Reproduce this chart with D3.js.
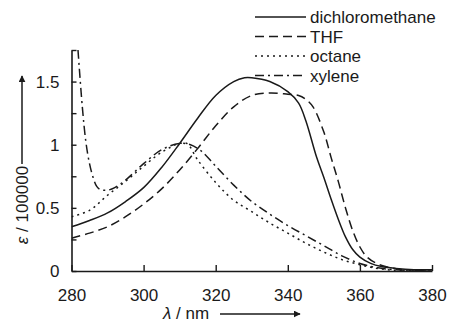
<!DOCTYPE html>
<html>
<head>
<meta charset="utf-8">
<script src="https://cdn.jsdelivr.net/npm/d3@7"></script>
<style>
  body { margin: 0; background: #fff; }
  svg { font-family: "Liberation Sans", Arial, sans-serif; }
</style>
</head>
<body>
<div id="chart"></div>
<script>
// Data (wavelength in nm, epsilon / 100000)
const seriesNames = ["dichloromethane", "THF", "octane", "xylene"];

const dcmX = [280, 285, 290, 295, 300, 305, 310, 315, 320, 325, 328, 330, 335, 340, 343, 345, 348, 350, 352, 354, 356, 358, 360, 363, 366, 370, 375, 380];
const dcmY = [0.35, 0.40, 0.46, 0.55, 0.66, 0.82, 1.01, 1.21, 1.39, 1.50, 1.53, 1.53, 1.50, 1.42, 1.33, 1.19, 0.90, 0.74, 0.57, 0.41, 0.27, 0.17, 0.11, 0.06, 0.035, 0.02, 0.01, 0.01];

const thfX = [280, 285, 290, 295, 300, 305, 310, 315, 320, 325, 330, 335, 340, 343, 345, 347, 350, 352, 354, 356, 358, 360, 362, 365, 368, 372, 380];
const thfY = [0.26, 0.30, 0.35, 0.43, 0.53, 0.65, 0.80, 0.97, 1.15, 1.30, 1.39, 1.41, 1.40, 1.39, 1.36, 1.30, 1.10, 0.90, 0.71, 0.50, 0.32, 0.19, 0.11, 0.055, 0.03, 0.01, 0.01];

const octX = [280, 285, 290, 295, 300, 305, 310, 312, 315, 320, 325, 330, 335, 340, 345, 350, 355, 360, 365, 370, 375, 380];
const octY = [0.43, 0.48, 0.60, 0.71, 0.83, 0.94, 1.01, 1.01, 0.88, 0.70, 0.56, 0.47, 0.38, 0.30, 0.22, 0.15, 0.09, 0.05, 0.02, 0.005, 0.0, 0.0];

const xylX = [281.8, 283, 284, 285, 286, 287, 288, 290, 292, 295, 300, 305, 310, 313, 316, 320, 325, 330, 335, 340, 345, 350, 355, 360, 365, 370, 380];
const xylY = [1.75, 1.30, 1.02, 0.85, 0.74, 0.67, 0.645, 0.64, 0.66, 0.72, 0.85, 0.96, 1.01, 1.00, 0.95, 0.83, 0.68, 0.55, 0.45, 0.36, 0.28, 0.20, 0.12, 0.06, 0.025, 0.01, 0.0];

const xTicks = [280, 300, 320, 340, 360, 380];
const yTicks = [0, 0.25, 0.5, 0.75, 1, 1.25, 1.5, 1.75];
const yLabels = {0: "0", 0.5: "0.5", 1: "1", 1.5: "1.5"};

const W = 449, H = 324;
const margin = {top: 50, right: 17, bottom: 53, left: 71.5};
const width = W - margin.left - margin.right;
const height = H - margin.top - margin.bottom;

const series = [
	{name: seriesNames[0], xs: dcmX, ys: dcmY, dash: null},
	{name: seriesNames[1], xs: thfX, ys: thfY, dash: "9,5"},
	{name: seriesNames[2], xs: octX, ys: octY, dash: "2,4"},
	{name: seriesNames[3], xs: xylX, ys: xylY, dash: "9,4,2,4"}
];

const x = d3.scaleLinear().domain([280, 380]).range([0, width]);
const y = d3.scaleLinear().domain([0, 1.75]).range([height, 0]);

const svg = d3.select("#chart").append("svg")
	.attr("width", W)
	.attr("height", H);

const g = svg.append("g")
	.attr("transform", "translate(" + margin.left + "," + margin.top + ")");

g.append("clipPath").attr("id", "clip")
	.append("rect").attr("x", 0).attr("y", 0).attr("width", width).attr("height", height);

// Curves
const line = d3.line()
	.x(d => x(d[0]))
	.y(d => y(d[1]))
	.curve(d3.curveCatmullRom.alpha(0.5));

for (let s of series) {
	g.append("path")
		.datum(d3.zip(s.xs, s.ys))
		.attr("clip-path", "url(#clip)")
		.attr("fill", "none")
		.attr("stroke", "#1a1a1a")
		.attr("stroke-width", 1.5)
		.attr("stroke-dasharray", s.dash)
		.attr("d", line);
}

// Axes (ticks pointing inward)
const xAxis = d3.axisBottom(x).tickValues(xTicks).tickSizeInner(-6).tickSizeOuter(0).tickPadding(18);
const yAxis = d3.axisLeft(y).tickValues(yTicks).tickSizeInner(-5).tickSizeOuter(0)
	.tickPadding(12).tickFormat(d => yLabels[d] !== undefined ? yLabels[d] : "");

const gx = g.append("g").attr("transform", "translate(0," + height + ")").call(xAxis);
const gy = g.append("g").call(yAxis);

for (let a of [gx, gy]) {
	a.select(".domain").attr("stroke", "#1a1a1a").attr("stroke-width", 1.6);
	a.selectAll(".tick line").attr("stroke", "#1a1a1a").attr("stroke-width", 1.4);
	a.selectAll(".tick text").attr("fill", "#1a1a1a").style("font-size", "17px");
}

// Arrow marker
svg.append("defs").append("marker")
	.attr("id", "arrow")
	.attr("viewBox", "0 0 10 10")
	.attr("refX", 9).attr("refY", 5)
	.attr("markerWidth", 7).attr("markerHeight", 7)
	.attr("markerUnits", "userSpaceOnUse")
	.attr("orient", "auto")
	.append("path").attr("d", "M0,0 L10,5 L0,10 z").attr("fill", "#1a1a1a");

// y-label
const yl = svg.append("text")
	.attr("transform", "translate(28,205) rotate(-90)")
	.style("text-anchor", "middle")
	.style("font-size", "17px")
	.attr("fill", "#1a1a1a");
yl.append("tspan").style("font-style", "italic").text("ε");
yl.append("tspan").text(" / 100000");

svg.append("line")
	.attr("x1", 22).attr("x2", 22)
	.attr("y1", 164).attr("y2", 76)
	.attr("stroke", "#1a1a1a").attr("stroke-width", 1.5)
	.attr("marker-end", "url(#arrow)");

// x-label
const xl = svg.append("text")
	.attr("x", 186).attr("y", 319)
	.style("text-anchor", "middle")
	.style("font-size", "17px")
	.attr("fill", "#1a1a1a");
xl.append("tspan").style("font-style", "italic").text("λ");
xl.append("tspan").text(" / nm");

svg.append("line")
	.attr("x1", 220).attr("x2", 300)
	.attr("y1", 314).attr("y2", 314)
	.attr("stroke", "#1a1a1a").attr("stroke-width", 1.5)
	.attr("marker-end", "url(#arrow)");

// Legend
const legend = svg.append("g").attr("transform", "translate(255,17)");
series.forEach((s, i) => {
	const row = legend.append("g").attr("transform", "translate(0," + (i * 19.5) + ")");
	row.append("line")
		.attr("x1", 0).attr("x2", 51)
		.attr("stroke", "#1a1a1a").attr("stroke-width", 1.5)
		.attr("stroke-dasharray", s.dash);
	row.append("text")
		.attr("x", 55).attr("y", 6)
		.style("font-size", "17px")
		.attr("fill", "#1a1a1a")
		.text(s.name);
});
</script>
</body>
</html>
